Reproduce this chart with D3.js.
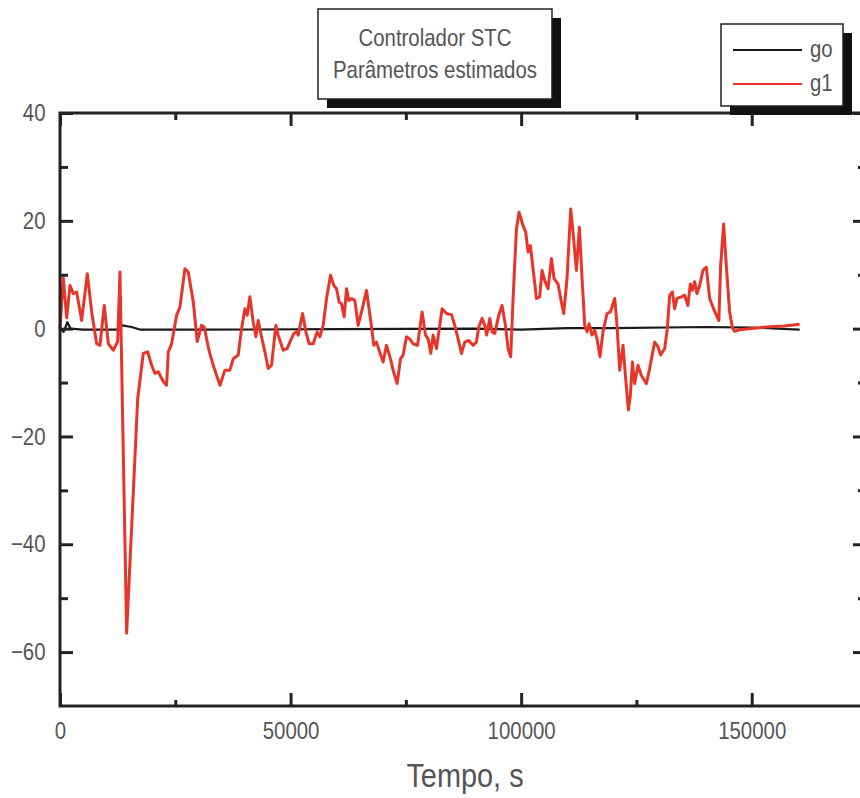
<!DOCTYPE html>
<html>
<head>
<meta charset="utf-8">
<script src="https://cdn.jsdelivr.net/npm/d3@7"></script>
<style>
  body { margin: 0; background: #fff; }
  svg { display: block; }
</style>
</head>
<body>
<div class="chart"></div>
<script>
// g1 - parametro estimado (tempo em s, valor)
const g1Tempo = [0,700,1450,2170,2890,3610,4700,5920,6870,7950,8670,9600,10470,11550,12500,13000,14450,16850,
  18060,19000,19870,20590,21300,22400,23120,23480,24200,25290,26000,27090,27810,28900,29760,30700,31270,32300,
  33230,34680,35760,36840,37560,38650,39370,40100,40600,41180,41900,42480,42980,43700,44430,45150,45870,46810,
  47310,48400,49260,49850,50710,51300,51650,52600,53320,54030,54900,55770,56350,57070,57800,58660,59380,59970,
  60540,61050,61620,62140,62640,63220,63940,64650,65390,66470,67560,68050,68640,69200,70070,70800,71670,72240,
  73110,73840,74400,75140,75850,76570,77520,78530,79260,79830,80410,80910,81640,82860,83810,84890,85610,86330,
  87060,87780,88640,89580,90300,90810,91530,92110,92540,93200,93700,94280,95150,95860,96600,97160,97740,98250,
  98980,99540,100410,101000,101500,102010,102580,103320,104030,104530,105120,105830,106570,107130,107990,108730,
  109230,109950,110750,111250,111990,112630,113210,113790,114290,114720,115370,115950,116450,117100,117750,
  118620,119350,120290,120790,121370,122090,122670,123260,123690,124130,124620,125340,126070,127160,127870,
  128950,129680,130260,131130,131700,132210,132790,133290,133790,134740,135460,136170,136690,137130,137630,
  138130,138710,139430,140160,140870,141590,142320,142880,143260,143910,144490,145210,145780,146290,147370,
  153160,157000,160400];
const g1Valor = [0,9.5,2,8,6.5,6.8,1.5,10.2,3.1,-2.8,-3.1,4.3,-2.8,-4,-2.4,10.5,-56.5,-13,
  -4.6,-4.3,-6.8,-8.3,-8,-9.8,-10.5,-4.3,-2.8,2.5,4,11.1,10.5,5,-2.4,0.6,0.3,-4,
  -6.8,-10.5,-7.7,-7.7,-5.6,-4.9,0,3.7,2.5,5.9,1.2,-1.5,1.5,-1.5,-4.3,-7.4,-6.8,0.6,
  -1.2,-4,-3.7,-2.5,-0.9,-0.6,-1.2,2.8,-0.6,-2.8,-2.8,-0.6,-1.5,0.6,5.6,9.9,8,7.4,
  4.9,4.6,2.2,7.4,5.2,5.6,5.2,0.6,3.1,7.1,0.3,-3.1,-2.5,-4,-6.2,-3.1,-5.6,-7.7,
  -10.2,-5.6,-4.9,-1.5,-1.9,-2.8,-3.1,3.1,-1.2,-1.9,-4.6,-1.2,-3.7,3.7,2.8,2.6,0.6,-1.9,
  -4.6,-2.5,-2.2,-3.1,-2.5,0.3,1.9,0.6,-1.2,1.9,-0.6,-0.9,2.5,4.3,0.6,-3.7,-5.2,5.6,
  18.5,21.6,19.1,17.9,14.2,15.4,11.1,5.6,5.9,10.8,8.9,7.4,13,9.3,8.3,4.9,
  2.8,9.3,22.2,17.9,10.8,18.8,9.3,0.6,-0.6,0.9,-1.2,-0.3,-1.9,-5.2,-0.6,
  2.8,3.1,5.6,0.6,-7.7,-3.1,-9.3,-15.1,-12.3,-6.2,-10.2,-6.8,-8.7,-10.2,-7.4,
  -2.5,-3.4,-4.9,-3.7,0,6.2,6.8,3.7,5.6,5.9,6.2,4.3,8.3,7.1,8.7,
  6.5,8,10.8,11.4,5.6,4,2.5,1.5,11.7,19.4,11.7,3.1,0.3,-0.5,-0.2,
  0.3,0.5,0.8];

// go - parametro estimado
const goTempo = [0,800,1600,2300,5000,12500,13500,15500,17500,30000,60000,90000,100000,110000,120000,140000,150000,160400];
const goValor = [0,-0.6,1.2,0,-0.2,-0.2,0.6,0.3,-0.2,-0.2,-0.1,0,-0.2,0.1,0.1,0.3,0.2,-0.2];

const xMajor = [0, 50000, 100000, 150000];
const xMinor = [25000, 75000, 125000];
const yMajor = [40, 20, 0, -20, -40, -60];
const yMinor = [30, 10, -10, -30, -50];

const series = [
  {name: "go", tempo: goTempo, valor: goValor, color: "#1a1a1a", width: 2.2},
  {name: "g1", tempo: g1Tempo, valor: g1Valor, color: "#e8352a", width: 3}
];

const W = 860, H = 798;
const margin = {top: 113, right: -7, bottom: 92, left: 60};
const width = W - margin.left - margin.right;
const height = H - margin.top - margin.bottom;
const font = "'Liberation Sans', Arial, sans-serif";
const squeeze = "scale(0.85,1)";   // the original lettering is a narrow plotter font
const ink = "#222";
const textColor = "#555";

const svg = d3.select(".chart").append("svg")
  .attr("width", W)
  .attr("height", H);

const g = svg.append("g")
  .attr("transform", "translate(" + margin.left + "," + margin.top + ")");

const x = d3.scaleLinear().domain([0, 175000]).range([0, width]);
const y = d3.scaleLinear().domain([-70, 40]).range([height, 0]);

// lines
const line = d3.line()
  .x(d => x(d[0]))
  .y(d => y(d[1]));

series.forEach(function(s){
  g.append("path")
    .datum(s.tempo.map((t, i) => [t, s.valor[i]]))
    .attr("fill", "none")
    .attr("stroke", s.color)
    .attr("stroke-width", s.width)
    .attr("stroke-linejoin", "round")
    .attr("d", line);
});

// frame
g.append("rect")
  .attr("width", width)
  .attr("height", height)
  .attr("fill", "none")
  .attr("stroke", ink)
  .attr("stroke-width", 3);

function styleAxis(sel){
  sel.select(".domain").remove();
  sel.selectAll(".tick line").attr("stroke", ink).attr("stroke-width", 3);
  sel.selectAll("text")
    .attr("fill", textColor)
    .attr("transform", squeeze)
    .style("font-family", font)
    .style("font-size", "24px");
}

// bottom axis
g.append("g")
  .attr("transform", "translate(0," + height + ")")
  .call(d3.axisBottom(x).tickValues(xMajor).tickSize(-13).tickPadding(16).tickFormat(d3.format("d")))
  .call(styleAxis);
g.append("g")
  .attr("transform", "translate(0," + height + ")")
  .call(d3.axisBottom(x).tickValues(xMinor).tickSize(-6).tickFormat(""))
  .call(styleAxis);

// top axis
g.append("g")
  .call(d3.axisTop(x).tickValues(xMajor).tickSize(-13).tickFormat(""))
  .call(styleAxis);
g.append("g")
  .call(d3.axisTop(x).tickValues(xMinor).tickSize(-7).tickFormat(""))
  .call(styleAxis);

// left axis
g.append("g")
  .call(d3.axisLeft(y).tickValues(yMajor).tickSize(-13).tickPadding(17).tickFormat(d => d < 0 ? "\u2212" + Math.abs(d) : d))
  .call(styleAxis);
g.append("g")
  .call(d3.axisLeft(y).tickValues(yMinor).tickSize(-8).tickFormat(""))
  .call(styleAxis);

// right axis
g.append("g")
  .attr("transform", "translate(" + width + ",0)")
  .call(d3.axisRight(y).tickValues(yMajor).tickSize(-14).tickFormat(""))
  .call(styleAxis);
g.append("g")
  .attr("transform", "translate(" + width + ",0)")
  .call(d3.axisRight(y).tickValues(yMinor).tickSize(-9).tickFormat(""))
  .call(styleAxis);

function label(px, py, txt, size, anchor){
  return svg.append("text")
    .attr("transform", "translate(" + px + "," + py + ") " + squeeze)
    .attr("text-anchor", anchor || "middle")
    .attr("fill", textColor)
    .style("font-family", font)
    .style("font-size", size + "px")
    .text(txt);
}

// x label
label(465, 787, "Tempo, s", 34);

// title box with shadow
const tb = {x: 318, y: 9, w: 234, h: 90};
svg.append("rect")
  .attr("x", tb.x + 9).attr("y", tb.y + 9)
  .attr("width", tb.w).attr("height", tb.h)
  .attr("fill", "#111");
svg.append("rect")
  .attr("x", tb.x).attr("y", tb.y)
  .attr("width", tb.w).attr("height", tb.h)
  .attr("fill", "#fff")
  .attr("stroke", ink)
  .attr("stroke-width", 1.5);
["Controlador STC", "Parâmetros estimados"].forEach(function(t, i){
  label(tb.x + tb.w / 2, 46 + i * 32, t, 24);
});

// legend box with shadow
const lb = {x: 721, y: 24, w: 122, h: 82};
svg.append("rect")
  .attr("x", lb.x + 9).attr("y", lb.y + 9)
  .attr("width", lb.w).attr("height", lb.h)
  .attr("fill", "#111");
svg.append("rect")
  .attr("x", lb.x).attr("y", lb.y)
  .attr("width", lb.w).attr("height", lb.h)
  .attr("fill", "#fff")
  .attr("stroke", ink)
  .attr("stroke-width", 1.5);

series.forEach(function(s, i){
  const ly = lb.y + 26 + i * 34;
  svg.append("line")
    .attr("x1", lb.x + 12).attr("x2", lb.x + 81)
    .attr("y1", ly).attr("y2", ly)
    .attr("stroke", s.color)
    .attr("stroke-width", 2.2);
  label(lb.x + 89, ly + 7, s.name, 24, "start");
});
</script>
</body>
</html>
